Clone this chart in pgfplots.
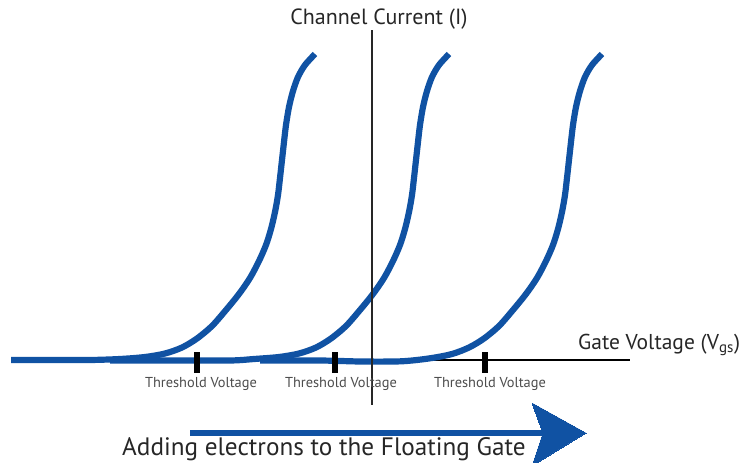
\documentclass[border=0pt]{standalone}
\usepackage{pgfplots}
\pgfplotsset{compat=1.18}
\usepackage{fontspec}
\setmainfont{PT Sans}
\definecolor{cblue}{RGB}{16,82,163}
\begin{document}
\begin{tikzpicture}
\begin{axis}[
  width=748pt, height=463pt, scale only axis,
  xmin=0, xmax=748, ymin=0, ymax=463, y dir=reverse,
  axis lines=none, clip=false,
]
% horizontal axis line
\addplot[black, line width=2pt] coordinates {(12,360) (630,360)};
% curves
\addplot[cblue, line width=6.2pt, smooth, tension=0.5] coordinates {
(11,360) (50,360) (90,360) (120,359) (145,357) (165,353.5) (182,347.5) (197,338.5) (212,326) (226,310) (239,294) (250,278) (259,261) (266,245) (271,229) (275,212) (278,195) (280,178) (282,160) (284,142) (286,125) (289,107) (293,91) (298,77) (305,65) (315,54)};
\addplot[cblue, line width=6.2pt, smooth, tension=0.5] coordinates {
(110,360.5) (170,360.5) (230,360.5) (254,359) (279,357) (299,353.5) (316,347.5) (331,338.5) (346,326) (360,310) (373,294) (384,278) (393,261) (400,245) (405,229) (409,212) (412,195) (414,178) (416,160) (418,142) (420,125) (423,107) (427,91) (432,77) (439,65) (449,54)};
\addplot[cblue, line width=6.2pt, smooth, tension=0.5] coordinates {
(260,360.5) (320,360.5) (360,361.5) (395,361.5) (412,360.5) (432,358) (452,354) (469,347.5) (484,338.5) (499,326) (513,310) (526,294) (537,278) (546,261) (553,245) (558,229) (562,212) (565,195) (567,178) (569,160) (571,142) (573,125) (576,107) (580,91) (585,77) (592,65) (602,54)};
% threshold ticks
\addplot[black, line width=6pt] coordinates {(197,352) (197,373)};
\addplot[black, line width=6pt] coordinates {(335,352) (335,373)};
\addplot[black, line width=6pt] coordinates {(485,352) (485,373)};
% vertical axis
\addplot[black!85, line width=1.8pt] coordinates {(372,30) (372,405)};
% bottom arrow
\addplot[cblue, line width=6pt] coordinates {(190,433) (545,433)};
\addplot[cblue, fill=cblue, line width=0pt] coordinates {(532,403) (586,433) (532,466) (543,433) (532,403)} -- cycle;
% labels
\node[anchor=base, font=\fontsize{22}{26}\selectfont, text=black!85] at (axis cs:379,24) {Channel Current (I)};
\node[anchor=base west, font=\fontsize{21.5}{25}\selectfont, text=black!85, inner sep=0pt] at (axis cs:578,349) {Gate Voltage (V\textsubscript{gs})};
\node[anchor=base, font=\fontsize{14.4}{16}\selectfont, text=black!70, inner sep=0pt] at (axis cs:201,387) {Threshold Voltage};
\node[anchor=base, font=\fontsize{14.4}{16}\selectfont, text=black!70, inner sep=0pt] at (axis cs:341,387) {Threshold Voltage};
\node[anchor=base, font=\fontsize{14.4}{16}\selectfont, text=black!70, inner sep=0pt] at (axis cs:490,387) {Threshold Voltage};
\node[anchor=base west, font=\fontsize{25.2}{29}\selectfont, text=black!85, inner sep=0pt] at (axis cs:122,455) {Adding electrons to the Floating Gate};
\coordinate (SW) at (axis cs:0,463);
\coordinate (NE) at (axis cs:748,0);
\end{axis}
\pgfresetboundingbox
\path[use as bounding box] (SW) rectangle (NE);
\end{tikzpicture}
\end{document}
